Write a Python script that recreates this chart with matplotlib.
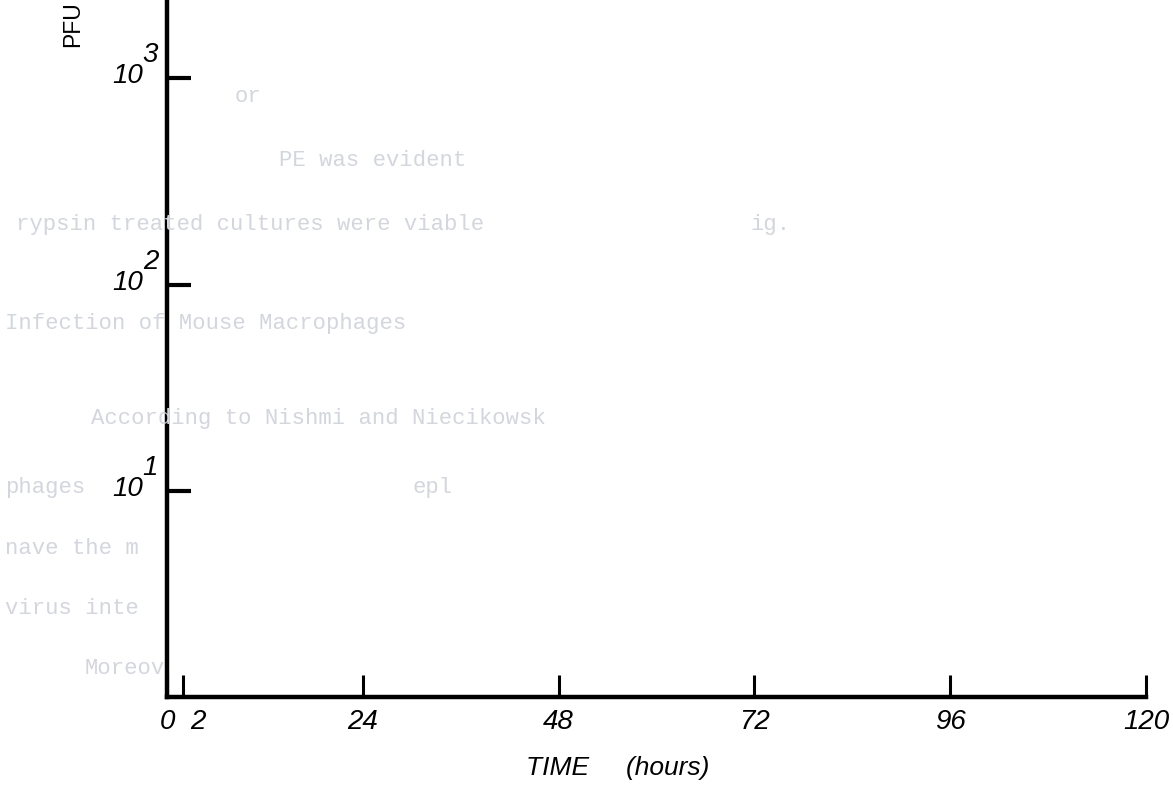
import matplotlib
matplotlib.use('Agg')
import matplotlib.pyplot as plt
import matplotlib.transforms as mtransforms

# tick values (no data points are drawn in the figure)
time_ticks = [0, 2, 24, 48, 72, 96, 120]
time_labels = ['0', '2', '24', '48', '72', '96', '120']
pfu_ticks = [10, 100, 1000]
pfu_exponents = ['1', '2', '3']

# faint bleed-through typewriter text from the page behind
ghost_lines = [
    (0.200, 0.880, 'or'),
    (0.238, 0.800, 'PE was evident'),
    (0.014, 0.720, 'rypsin treated cultures were viable'),
    (0.640, 0.720, 'ig.'),
    (0.004, 0.597, 'Infection of Mouse Macrophages'),
    (0.078, 0.478, 'According to Nishmi and Niecikowsk'),
    (0.004, 0.392, 'phages'),
    (0.352, 0.392, 'epl'),
    (0.004, 0.316, 'nave the m'),
    (0.004, 0.241, 'virus inte'),
    (0.072, 0.166, 'Moreov'),
]

fig = plt.figure(figsize=(11.73, 8.02), dpi=100)

for gx, gy, s in ghost_lines:
    fig.text(gx, gy, s, family='Liberation Mono', fontsize=16,
             color='#d3d6dc', va='center', ha='left', zorder=0)

ax = fig.add_axes([0.1424, 0.131, 0.8346, 0.869])
ax.patch.set_alpha(0)

ax.set_xlim(0, 120)
ax.set_yscale('log')
ax.set_ylim(1, 10 ** 3.38)

for side in ['top', 'right']:
    ax.spines[side].set_visible(False)
for side in ['left', 'bottom']:
    ax.spines[side].set_linewidth(3.2)
    ax.spines[side].set_color('black')

ax.set_xticks(time_ticks)
ax.set_xticklabels(time_labels, fontsize=20, family='Liberation Sans', style='italic')
ax.set_yticks(pfu_ticks)
ax.set_yticklabels([])
ax.minorticks_off()
ax.tick_params(axis='x', direction='in', length=16, width=2.2, pad=9)
ax.tick_params(axis='y', direction='in', length=17, width=3)

# the hand-drawn "2" sits a bit right of its true spot; nudge the label so it clears the "0"
lbl2 = ax.get_xticklabels()[1]
lbl2.set_transform(lbl2.get_transform() +
                   mtransforms.ScaledTranslation(14 / 100, 0, fig.dpi_scale_trans))

# y tick labels as hand-lettered "10" with a full-size raised exponent
ytrans = mtransforms.blended_transform_factory(ax.transAxes, ax.transData)
base_off = mtransforms.ScaledTranslation(-24 / 100, 2 / 100, fig.dpi_scale_trans)
exp_off = mtransforms.ScaledTranslation(-9 / 100, 10 / 100, fig.dpi_scale_trans)
for v, e in zip(pfu_ticks, pfu_exponents):
    ax.text(0, v, '10', transform=ytrans + base_off, ha='right', va='center',
            fontsize=20, family='Liberation Sans', style='italic', clip_on=False)
    ax.text(0, v, e, transform=ytrans + exp_off, ha='right', va='bottom',
            fontsize=20, family='Liberation Sans', style='italic', clip_on=False)

ax.set_xlabel('TIME     (hours)', fontsize=19, family='Liberation Sans',
              style='italic')
ax.xaxis.set_label_coords(0.46, -0.085)

# y label runs up to the top edge of the scan
fig.text(0.062, 0.942, 'PFU', rotation=90, fontsize=16.5,
         family='Liberation Sans', va='bottom', ha='center')

fig.savefig('out.png', dpi=100)
